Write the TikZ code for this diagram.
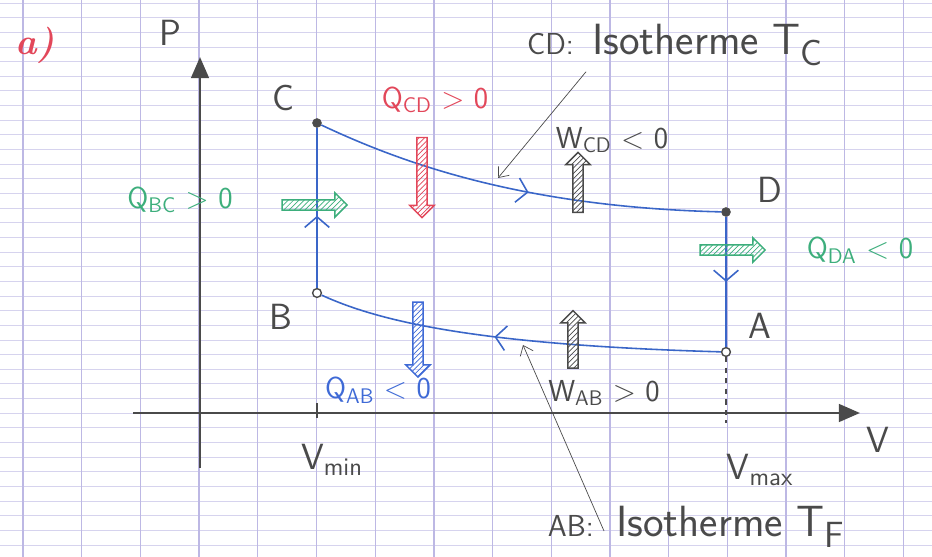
\documentclass[tikz,border=0pt]{standalone}
\usepackage{tikz}
\usetikzlibrary{arrows.meta,positioning,shapes.arrows,patterns,decorations.markings}
\definecolor{ink}{HTML}{4A4A4A}
\definecolor{cycleblue}{HTML}{3A66C8}
\definecolor{heatred}{HTML}{E2475A}
\definecolor{heatgreen}{HTML}{3DAE7C}
\definecolor{heatblue}{HTML}{3F6AD6}
\definecolor{ruleh}{HTML}{D6D3EE}
\definecolor{rulev}{HTML}{BDB8E4}
\tikzset{
  axis/.style={ink, line width=1.6pt, -{Triangle[length=12pt,width=10pt]}},
  cycleline/.style={cycleblue, line width=0.9pt},
  midarrow/.style={postaction={decorate}, decoration={markings,
    mark=at position #1 with {\arrow{Straight Barb[length=6pt,width=14pt]}}}},
  statedot/.style={circle, draw=ink, fill=ink, inner sep=0pt, minimum size=5pt},
  stateopen/.style={circle, draw=ink, fill=white, thick, inner sep=0pt, minimum size=5pt},
  statelabel/.style={text=ink, font=\huge\sffamily},
  heatlabel/.style={text=#1, font=\LARGE\sffamily},
  heatlabel/.default=ink,
  fatarrow/.style={single arrow, draw=#1, thick, pattern=north east lines,
    pattern color=#1, inner sep=2.5pt, single arrow head extend=4pt},
  noteline/.style={ink, thin, -{Straight Barb[length=5pt,width=8pt]}},
  notetext/.style={text=ink, font=\Huge\sffamily},
}

\begin{document}
\begin{tikzpicture}[x=0.02cm, y=0.02cm]
  \useasboundingbox (0,0) rectangle (932,557);
  % ruled paper
  \foreach \i in {0,...,38}
    \draw[ruleh, line width=0.5pt] (0,{554-14.65*\i}) -- (932,{554-14.65*\i});
  \foreach \i in {0,...,15}
    \draw[rulev, line width=0.7pt] ({23+58.7*\i},0) -- ({23+58.7*\i},557);

  \node[text=heatred, font=\huge\bfseries\itshape] (part) at (35,512) {a)};

  % axes
  \coordinate (porig) at (200,89);
  \coordinate (ptop) at (200,500);
  \coordinate (vorig) at (133,144);
  \coordinate (vend) at (860,144);
  \draw[axis] (porig) -- (ptop);
  \draw[axis] (vorig) -- (vend);
  \node[statelabel] (plabel) at (170,524) {P};
  \node[statelabel] (vlabel) at (878,117) {V};

  % states
  \node[statedot] (C) at (317,434) {};
  \node[statedot] (D) at (726,345) {};
  \node[stateopen] (B) at (317,264) {};
  \node[stateopen] (A) at (726,205) {};
  \node[statelabel] at (283,459) {C};
  \node[statelabel] at (770,367) {D};
  \node[statelabel] at (281,240) {B};
  \node[statelabel] at (760,231) {A};

  % volume marks
  \coordinate (vmintick) at (317,139);
  \coordinate (vmaxfoot) at (726,134);
  \draw[ink, thick] (vmintick) -- (317,154);
  \draw[ink, thick, dashed] (A) -- (vmaxfoot);
  \node[statelabel] (vmin) at (332,97) {V\textsubscript{min}};
  \node[statelabel] (vmax) at (760,87) {V\textsubscript{max}};

  % cycle
  \draw[cycleline, midarrow=0.53] (C) .. controls (400,395) and (520,350) .. (D);
  \draw[cycleline, midarrow=0.5] (D) -- (A);
  \draw[cycleline, midarrow=0.56] (A) .. controls (480,212) and (380,235) .. (B);
  \draw[cycleline, midarrow=0.45] (B) -- (C);

  % heat and work
  \node[fatarrow=heatred, rotate=-90, minimum height=1.6cm] (qcd) at (422,382) {};
  \node[fatarrow=ink, rotate=90, minimum height=1.2cm] (wcd) at (578,372) {};
  \node[fatarrow=heatgreen, minimum height=1.3cm] (qbc) at (312,352) {};
  \node[fatarrow=heatgreen, minimum height=1.3cm] (qda) at (730,307) {};
  \node[fatarrow=heatblue, rotate=-90, minimum height=1.5cm] (qab) at (418,220) {};
  \node[fatarrow=ink, rotate=90, minimum height=1.15cm] (wab) at (573,215) {};

  \node[heatlabel=heatred] at (435,457) {Q\textsubscript{CD} $>$ 0};
  \node[heatlabel] at (612,417) {W\textsubscript{CD} $<$ 0};
  \node[heatlabel=heatgreen] at (180,357) {Q\textsubscript{BC} $>$ 0};
  \node[heatlabel=heatgreen] at (860,307) {Q\textsubscript{DA} $<$ 0};
  \node[heatlabel=heatblue] at (378,167) {Q\textsubscript{AB} $<$ 0};
  \node[heatlabel] at (604,164) {W\textsubscript{AB} $>$ 0};

  % isotherms
  \node[notetext, anchor=base west] (isoCD) at (586,502) {Isotherme T\textsubscript{C}};
  \node[text=ink, font=\LARGE\sffamily, anchor=base east] (cdtag) at (580,502) {CD:};
  \coordinate (cdpoint) at (498,379);
  \draw[noteline] (isoCD.south west) -- (cdpoint);

  \node[notetext, anchor=base west] (isoAB) at (610,20) {Isotherme T\textsubscript{F}};
  \node[text=ink, font=\LARGE\sffamily, anchor=base east] (abtag) at (600,20) {AB:};
  \coordinate (abpoint) at (523,212);
  \draw[noteline] (604,26) -- (abpoint);
\end{tikzpicture}
\end{document}
